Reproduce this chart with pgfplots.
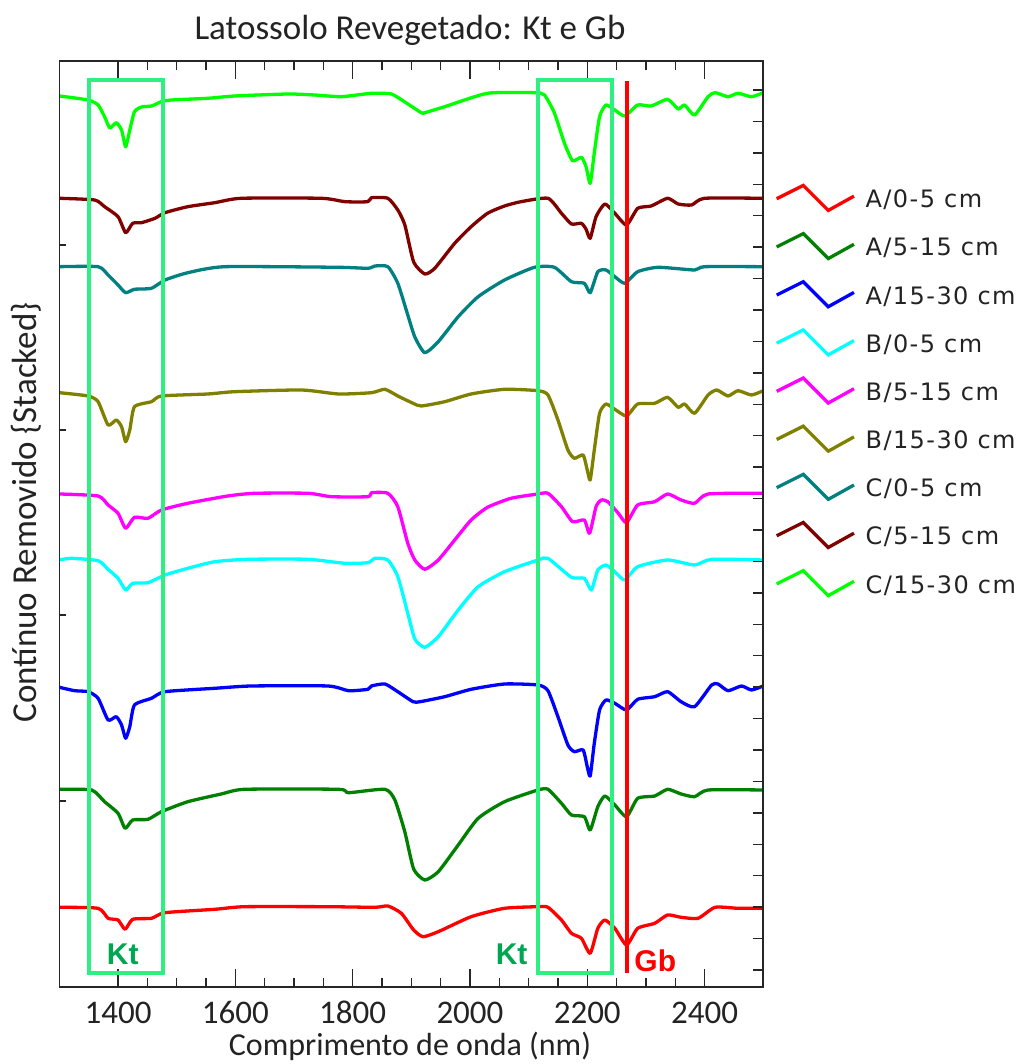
\documentclass[border=0pt]{standalone}
\usepackage{pgfplots}
\pgfplotsset{compat=1.18}
\usepackage{fontspec}
\setmainfont{Carlito}
\newfontfamily\legfont[LetterSpace=6]{DejaVu Sans}
\newfontfamily\labfont{Liberation Sans}

\definecolor{txt}{RGB}{35,35,35}
\definecolor{ktbox}{RGB}{46,240,128}
\definecolor{ktlab}{RGB}{0,166,81}
\definecolor{cAa}{RGB}{255,0,0}
\definecolor{cAb}{RGB}{0,128,0}
\definecolor{cAc}{RGB}{0,0,255}
\definecolor{cBa}{RGB}{0,255,255}
\definecolor{cBb}{RGB}{255,0,255}
\definecolor{cBc}{RGB}{128,128,0}
\definecolor{cCa}{RGB}{0,128,128}
\definecolor{cCb}{RGB}{128,0,0}
\definecolor{cCc}{RGB}{0,255,0}

\pgfplotsset{
  frame/.style={
    scale only axis, width=703.8pt, height=926pt,
    xmin=1300, xmax=2500, ymin=0, ymax=926,
    tick align=inside,
    axis line style={line width=1.6pt, black!85},
    tick style={line width=1.4pt, black!85},
  }
}

\begin{document}
\begin{tikzpicture}
\path[use as bounding box] (-59.4pt,-77pt) rectangle (963.6pt,987pt);

\begin{axis}[frame,
  xtick={1400,1600,1800,2000,2200,2400},
  xticklabels={1400,1600,1800,2000,2200,2400},
  minor x tick num=3,
  major tick length=18pt, minor tick length=9pt,
  ytick=\empty,
  xticklabel style={anchor=base, yshift=-36.5pt, inner sep=1pt, font=\fontsize{33}{36}\selectfont, text=txt},
  no markers,
  every axis plot/.append style={line width=3.3pt, line join=round, smooth, tension=0.35},
  legend image code/.code={
    \draw[#1, sharp plot, line join=miter] (0pt,1pt) -- (26.6pt,14.3pt) -- (51.6pt,-10.7pt) -- (77.3pt,3.6pt);
    \path[draw=none] (0pt,-15.7pt) -- (0pt,15.7pt);
  },
  legend style={at={(1.0168,0.8674)}, anchor=north west, draw=none, fill=none,
    inner sep=0pt, outer sep=0pt, row sep=16.5pt,
    nodes={inner sep=0pt},
    /tikz/every odd column/.append style={column sep=10pt},
    font=\legfont\fontsize{24}{26}\selectfont, text=txt},
  legend cell align=left,
]
% A/0-5 cm
\addplot[cAa] coordinates {
(1300,79.7) (1366,78.7) (1383,68.7) (1400,67) (1412,57.7) (1425,67.7) (1457,68.7)
(1480,74.3) (1565,77.7) (1616,80.3) (1758,80.3) (1838,79.7) (1860,81) (1883,73.7)
(1904,57) (1920,50.3) (1946,55.3) (2002,70.3) (2059,78.7) (2116,80.3) (2133,79.7)
(2156,67) (2173,53.7) (2190,48.7) (2205,33.7) (2218,58.7) (2230,67) (2247,58.7)
(2267,42) (2286,58.7) (2315,63.7) (2337,72) (2360,69.7) (2389,68.7) (2418,79.7)
(2457,78.7) (2500,78.7)};
\addlegendentry{A/0-5 cm}
% A/5-15 cm
\addplot[cAb] coordinates {
(1300,197.7) (1355,197) (1377,185.3) (1400,173.7) (1412,158.7) (1425,167) (1451,167.7)
(1474,175.3) (1519,185.3) (1576,193) (1616,197.7) (1776,197.7) (1793,194.3) (1855,197.7)
(1872,187) (1889,155) (1904,118) (1923,107) (1946,115.3) (1980,142) (2014,168.7)
(2059,185.3) (2116,197) (2133,197.7) (2156,183.7) (2173,172) (2195,170.3) (2205,157)
(2218,180.3) (2230,191) (2247,182) (2267,170.3) (2286,188.7) (2315,191) (2337,197.7)
(2360,193) (2383,190.3) (2406,197) (2500,197)};
\addlegendentry{A/5-15 cm}
% A/15-30 cm
\addplot[cAc] coordinates {
(1300,299.7) (1326,296.3) (1349,295.3) (1366,288.7) (1383,267) (1397,270.3) (1406,262)
(1413,248.7) (1420,260.3) (1428,282) (1457,288.7) (1480,295.3) (1565,298.7) (1627,301)
(1758,301) (1793,296.3) (1826,297.7) (1832,301) (1855,303) (1877,295.3) (1903,285.3)
(1915,285.3) (1957,290.3) (2002,297.7) (2059,303) (2116,302) (2133,296.3) (2150,270.3)
(2167,242) (2178,235.3) (2193,237) (2200,220.3) (2205,211) (2212,243.7) (2221,277)
(2232,287) (2247,283.7) (2267,277) (2286,287.7) (2315,290.3) (2337,295.3) (2360,285.3)
(2383,280.3) (2412,302) (2423,303) (2440,296.3) (2463,301) (2480,297) (2500,301)};
\addlegendentry{A/15-30 cm}
% B/0-5 cm
\addplot[cBa] coordinates {
(1300,427) (1320,428.7) (1366,426.3) (1383,417.7) (1400,408.7) (1413,397) (1425,403.7)
(1451,404.3) (1480,412) (1519,418.7) (1565,425.3) (1622,427.7) (1724,427.7) (1787,423.7)
(1826,424.3) (1838,428.7) (1860,427) (1877,410.3) (1894,373.7) (1906,348) (1923,339.7)
(1946,350.3) (1980,377) (2014,400.3) (2059,415.3) (2116,427) (2133,428.7) (2173,409.7)
(2195,408.7) (2207,397) (2218,417) (2232,422) (2247,415.3) (2264,407) (2286,420.3)
(2337,427) (2383,422) (2412,427.7) (2500,427)};
\addlegendentry{B/0-5 cm}
% B/5-15 cm
\addplot[cBb] coordinates {
(1300,493) (1366,491) (1383,482) (1400,473.7) (1413,458.7) (1428,469.7) (1451,468.7)
(1474,477) (1519,483.7) (1587,491) (1633,493.7) (1724,493.7) (1764,490.3) (1826,490.3)
(1832,494.3) (1860,493.7) (1877,480.3) (1894,443.7) (1906,427) (1923,417.7) (1946,427)
(1974,447) (2002,467) (2030,479.7) (2070,488.7) (2116,493) (2133,493.7) (2156,480.3)
(2175,465.3) (2195,467) (2204,453.7) (2215,480.3) (2224,487) (2235,485.3) (2253,473.7)
(2267,464.3) (2286,482) (2315,485.3) (2337,493) (2360,487) (2383,483.7) (2406,493)
(2500,493.7)};
\addlegendentry{B/5-15 cm}
% B/15-30 cm
\addplot[cBc] coordinates {
(1300,594.3) (1349,591) (1366,585.3) (1383,562) (1397,567) (1406,560.3) (1413,545.3)
(1420,557) (1428,580.3) (1457,585.3) (1474,591) (1553,593) (1599,595.3) (1713,597)
(1776,593) (1832,594.3) (1855,597.7) (1877,591) (1903,583.7) (1917,581) (1957,585.3)
(2002,593) (2059,597.7) (2116,596.3) (2133,592) (2150,567) (2167,537) (2178,528.7)
(2193,532) (2200,517) (2205,507) (2212,537) (2221,573.7) (2232,583) (2247,577.7)
(2267,571) (2286,583) (2315,583.7) (2337,589.7) (2355,579.7) (2366,583) (2383,573.7)
(2406,592) (2421,597) (2440,591) (2457,596.3) (2480,592) (2500,596.3)};
\addlegendentry{B/15-30 cm}
% C/0-5 cm
\addplot[cCa] coordinates {
(1300,720.3) (1366,720.3) (1383,712) (1400,702) (1413,694.3) (1428,697.7) (1457,698.7)
(1480,707) (1519,714.3) (1582,720.3) (1775,719.7) (1826,718.7) (1838,721) (1860,720.3)
(1877,703.7) (1894,672) (1906,650) (1923,634.3) (1946,645.3) (1980,670.3) (2014,690.3)
(2059,707) (2110,719.7) (2144,719.7) (2173,705.3) (2195,703.7) (2205,694.3) (2218,715.3)
(2232,717) (2247,710.3) (2264,703.7) (2286,715.3) (2321,719.7) (2383,717) (2400,720.3)
(2500,720.3)};
\addlegendentry{C/0-5 cm}
% C/5-15 cm
\addplot[cCb] coordinates {
(1300,788.7) (1360,787) (1377,780.3) (1400,770.3) (1413,754.3) (1425,763.7) (1440,764.3)
(1463,768.7) (1480,774.3) (1519,780.3) (1565,784.3) (1610,788.7) (1747,788.7) (1787,785.3)
(1826,785.3) (1832,789.3) (1860,788.7) (1877,777) (1889,762) (1904,725) (1923,713)
(1940,718.7) (1974,743.7) (2002,760.3) (2030,773.7) (2059,781) (2087,785.3) (2133,788.7)
(2156,773.7) (2173,763) (2190,763.7) (2198,757.7) (2205,748.7) (2215,770.3) (2230,783)
(2247,773.7) (2267,762) (2286,778.7) (2309,781) (2337,788.7) (2355,783) (2378,782)
(2400,788.7) (2500,788.7)};
\addlegendentry{C/5-15 cm}
% C/15-30 cm
\addplot[cCc] coordinates {
(1300,891) (1349,887) (1366,882) (1377,870.3) (1386,859) (1397,864.3) (1406,857)
(1413,840.3) (1420,857) (1428,875.3) (1440,880) (1457,881) (1474,885.3) (1491,887)
(1553,888.7) (1599,891) (1690,893) (1735,892) (1781,890.3) (1832,893.7) (1866,893)
(1889,885) (1917,874.3) (1923,874.3) (1957,880.3) (2030,893.7) (2110,894.3) (2127,892)
(2144,874) (2161,844) (2175,826.3) (2190,829.7) (2198,820.3) (2205,803.7) (2212,834)
(2221,870.3) (2232,882) (2247,877) (2264,871) (2286,882) (2309,881) (2337,887.7)
(2355,878) (2366,882) (2383,872) (2406,890.3) (2418,894.3) (2440,890.3) (2457,893.7)
(2480,890.3) (2500,894.3)};
\addlegendentry{C/15-30 cm}

% kaolinite windows and gibbsite line
\draw[ktbox, line width=4pt] (axis cs:1350,14) rectangle (axis cs:1476,907);
\draw[ktbox, line width=4pt] (axis cs:2116,14) rectangle (axis cs:2242,907);
\draw[red, line width=4pt] (axis cs:2268,14) -- (axis cs:2268,906);
\node[anchor=base, text=ktlab, font=\labfont\bfseries\fontsize{30}{30}\selectfont] at (axis cs:1408,22) {Kt};
\node[anchor=base, text=ktlab, font=\labfont\bfseries\fontsize{30}{30}\selectfont] at (axis cs:2071,22) {Kt};
\node[anchor=base, text=red, font=\labfont\bfseries\fontsize{30}{30}\selectfont] at (axis cs:2316,16) {Gb};
\end{axis}

% left-side ticks
\begin{axis}[frame, xtick=\empty, ytick={186,372,557,742}, yticklabels={},
  ytick pos=left, major tick length=7pt]
\end{axis}
% right-side ticks
\begin{axis}[frame, xtick=\empty, ytick={17,48.43,...,900}, yticklabels={},
  ytick pos=right, major tick length=10pt]
\end{axis}

\node[anchor=base, inner sep=1pt, text=txt, font=\fontsize{35}{40}\selectfont] at (350.6pt,947.7pt) {Latossolo Revegetado: Kt e Gb};
\node[anchor=base, inner sep=0pt, text=txt, font=\fontsize{32}{35}\selectfont] at (350.6pt,-68.5pt) {Comprimento de onda (nm)};
\node[anchor=base, inner sep=1pt, rotate=90, text=txt, font=\fontsize{35}{40}\selectfont] at (-23pt,474.5pt) {Contínuo Removido \{Stacked\}};
\end{tikzpicture}
\end{document}
